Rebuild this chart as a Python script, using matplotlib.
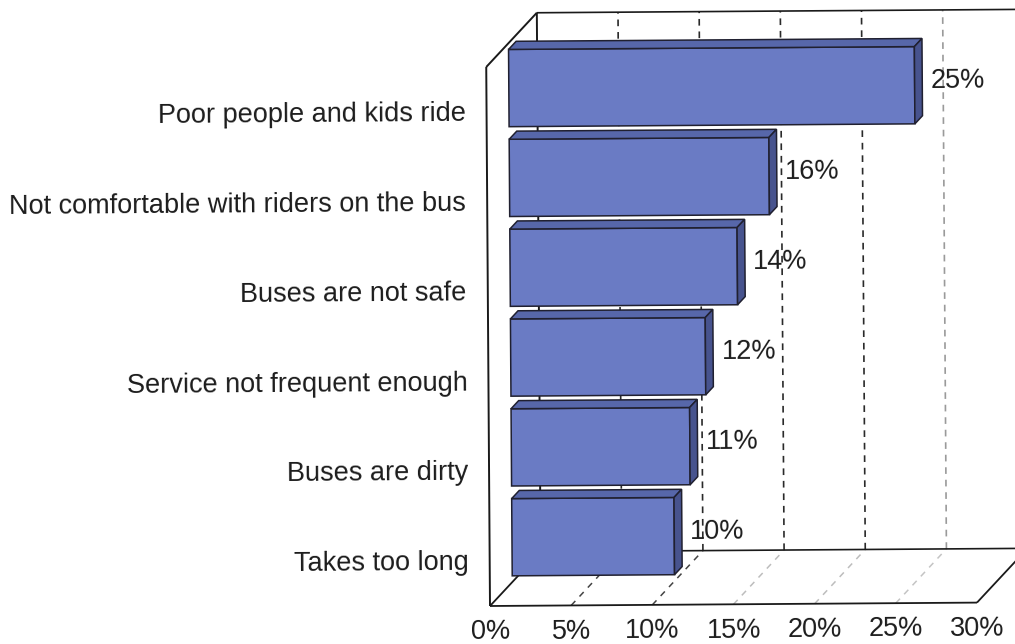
import matplotlib
matplotlib.use("Agg")
import matplotlib.pyplot as plt
from matplotlib.patches import Polygon
from matplotlib.transforms import Affine2D

# Survey answers, top to bottom
categories = [
    "Poor people and kids ride",
    "Not comfortable with riders on the bus",
    "Buses are not safe",
    "Service not frequent enough",
    "Buses are dirty",
    "Takes too long",
]
values = [25, 16, 14, 12, 11, 10]
ticks = [0, 5, 10, 15, 20, 25, 30]
tick_labels = ["0%", "5%", "10%", "15%", "20%", "25%", "30%"]

W, H = 1015, 644
plt.rcParams["font.family"] = ["Liberation Sans", "DejaVu Sans"]
FS = 19.5
TXT = "#1c1c1c"

fig = plt.figure(figsize=(W / 100, H / 100), dpi=100)
fig.patch.set_facecolor("white")
ax = fig.add_axes([490 / W, 38 / H, 487 / W, 539 / H])
ax.set_xlim(0, 30)
ax.set_ylim(0, len(categories))
ax.axis("off")

# slight tilt of the whole drawing around the front-left floor corner
ANG = 0.4
tilt = ax.transData + Affine2D().rotate_deg_around(490, 38, ANG)

# oblique projection: full wall depth in data units
DX, DY = 3.14, 0.60
XMAX = ticks[-1]
YMAX = len(categories)


def P(x, y, d):
    return (x + d * DX, y + d * DY)


def seg(p, q, **kw):
    ax.plot([p[0], q[0]], [p[1], q[1]], transform=tilt, clip_on=False,
            solid_capstyle="butt", **kw)


EDGE = "#1a1a1a"
# walls and floor outline
seg(P(0, 0, 0), P(0, YMAX, 0), color=EDGE, lw=1.4, zorder=1)
seg(P(0, YMAX, 0), P(0, YMAX, 1), color=EDGE, lw=1.4, zorder=1)
seg(P(0, 0, 1), P(0, YMAX, 1), color=EDGE, lw=1.4, zorder=1)
seg(P(0, YMAX, 1), P(XMAX, YMAX, 1), color=EDGE, lw=1.2, zorder=1)
seg(P(XMAX, 0, 1), P(XMAX, YMAX, 1), color=EDGE, lw=1.2, zorder=1)
seg(P(0, 0, 0), P(XMAX, 0, 0), color=EDGE, lw=1.3, zorder=1)
seg(P(XMAX, 0, 0), P(XMAX, 0, 1), color=EDGE, lw=1.3, zorder=1)
seg(P(0, 0, 1), P(XMAX, 0, 1), color=EDGE, lw=1.2, zorder=1)
seg(P(0, 0, 0), P(0, 0, 1), color=EDGE, lw=1.3, zorder=1)

# gridlines on back wall and floor
wall_grey = {5: "#2a2a2a", 10: "#2a2a2a", 15: "#2a2a2a", 20: "#2a2a2a", 25: "#9a9a9a"}
floor_grey = {5: "#444444", 10: "#444444", 15: "#bdbdbd", 20: "#bdbdbd", 25: "#c4c4c4"}
for t in ticks[1:-1]:
    seg(P(t, 0, 1), P(t, YMAX, 1), color=wall_grey[t], lw=1.2,
        linestyle=(0, (4, 3.5)), zorder=0.5)
    seg(P(t, 0, 0), P(t, 0, 1), color=floor_grey[t], lw=1.1,
        linestyle=(0, (4, 4)), zorder=0.5)

# 3-D bars
FRONT, TOP, SIDE = "#6a7bc4", "#5767aa", "#47538e"
D1, D2 = 0.44, 0.59
BH = 0.86
for i, (cat, v) in enumerate(zip(categories, values)):
    yc = YMAX - i - 0.5
    y0, y1 = yc - BH / 2, yc + BH / 2
    faces = [
        ([P(0, y0, D1), P(v, y0, D1), P(v, y1, D1), P(0, y1, D1)], FRONT),
        ([P(0, y1, D1), P(v, y1, D1), P(v, y1, D2), P(0, y1, D2)], TOP),
        ([P(v, y0, D1), P(v, y0, D2), P(v, y1, D2), P(v, y1, D1)], SIDE),
    ]
    for pts, col in faces:
        ax.add_patch(Polygon(pts, closed=True, facecolor=col, edgecolor="#202030",
                             lw=1.1, joinstyle="miter", transform=tilt,
                             clip_on=False, zorder=3))
    lx, ly = P(v, yc, (D1 + D2) / 2)
    ax.text(lx + 0.75, ly, f"{v}%", ha="left", va="center", fontsize=FS,
            color=TXT, transform=tilt, rotation=ANG, rotation_mode="anchor",
            zorder=4)
    ax.text(-1.3, yc - 0.02, cat, ha="right", va="center", fontsize=FS, color=TXT,
            transform=tilt, rotation=ANG, rotation_mode="anchor", zorder=4)

for t, lab in zip(ticks, tick_labels):
    ax.text(t, -0.29, lab, ha="center", va="center", fontsize=FS, color=TXT,
            transform=tilt, rotation=ANG, rotation_mode="anchor", zorder=4)

fig.savefig("out.png", dpi=100, facecolor="white")
